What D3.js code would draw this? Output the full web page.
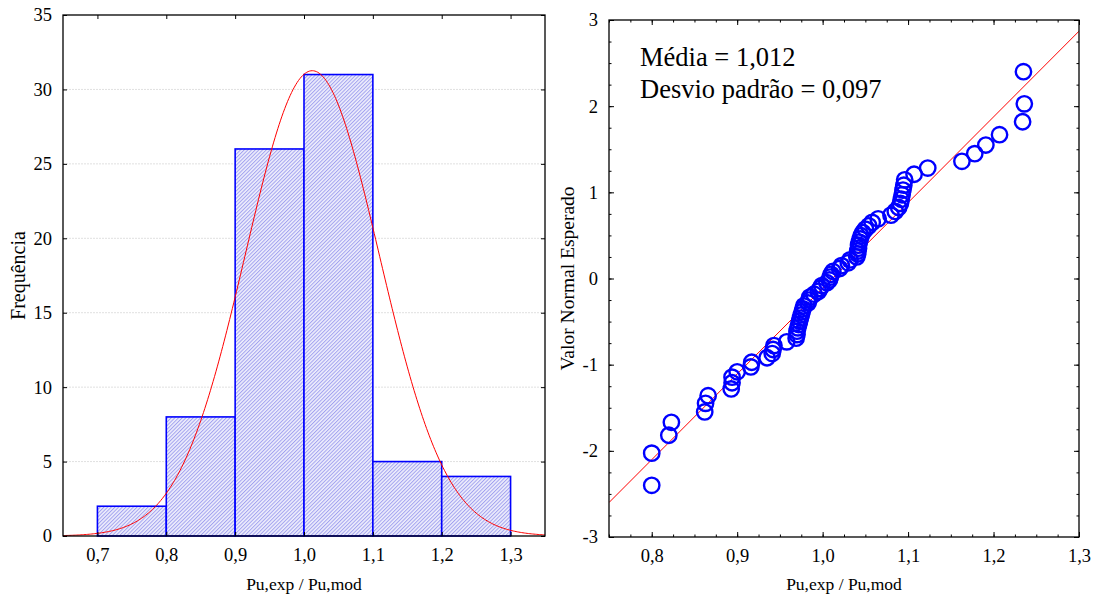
<!DOCTYPE html>
<html><head><meta charset="utf-8">
<script src="https://cdn.jsdelivr.net/npm/d3@7"></script>
<style>
body{margin:0;background:#fff;}
text{font-family:"Liberation Serif","Times New Roman",serif;fill:#000;}
</style></head>
<body><svg id="c" width="1094" height="595"></svg>
<script>
// ---- data ----
const binStarts = [0.7, 0.8, 0.9, 1.0, 1.1, 1.2];
const binWidth = 0.1;
const binCounts = [2, 8, 26, 31, 5, 4];
const histXTicks = [0.7, 0.8, 0.9, 1.0, 1.1, 1.2, 1.3];
const histYTicks = [0, 5, 10, 15, 20, 25, 30, 35];
const mean = 1.012, sd = 0.097;
// sorted observations (x) and expected normal values (y)
const obsX = [0.800,0.800,0.820,0.823,0.862,0.863,0.866,0.893,0.894,0.894,
  0.900,0.916,0.917,0.935,0.941,0.942,0.943,0.958,0.969,0.970,
  0.970,0.971,0.972,0.973,0.974,0.975,0.976,0.977,0.978,0.983,
  0.984,0.985,0.990,0.995,0.997,0.999,1.005,1.008,1.009,1.010,
  1.012,1.020,1.022,1.030,1.032,1.040,1.041,1.041,1.042,1.042,
  1.043,1.044,1.045,1.047,1.050,1.054,1.058,1.065,1.080,1.085,
  1.089,1.091,1.092,1.093,1.094,1.095,1.096,1.107,1.123,1.163,
  1.178,1.191,1.207,1.234,1.236,1.235];
const expZ = [-2.400,-2.027,-1.819,-1.669,-1.549,-1.449,-1.360,-1.282,-1.210,-1.145,
  -1.083,-1.026,-0.972,-0.920,-0.871,-0.824,-0.779,-0.735,-0.693,-0.651,
  -0.611,-0.573,-0.534,-0.496,-0.459,-0.423,-0.387,-0.352,-0.318,-0.284,
  -0.250,-0.216,-0.182,-0.149,-0.116,-0.082,-0.049,-0.016,0.016,0.049,
  0.082,0.116,0.149,0.182,0.216,0.250,0.284,0.318,0.352,0.387,
  0.423,0.459,0.496,0.534,0.573,0.611,0.651,0.693,0.735,0.779,
  0.824,0.871,0.920,0.972,1.026,1.083,1.145,1.210,1.282,1.360,
  1.449,1.549,1.669,1.819,2.027,2.400];
const lineX = [0.75, 1.3];
const lineZ = [-2.60, 2.87];
const qqXTicks = [0.8, 0.9, 1.0, 1.1, 1.2, 1.3];
const qqYTicks = [-3, -2, -1, 0, 1, 2, 3];

const fmt = d => d3.format(".1f")(d).replace(".", ",");
const fmtInt = d => String(d);
const svg = d3.select("#c");
const TICKFS = "18.5px";

// pattern
const defs = svg.append("defs");
const pat = defs.append("pattern").attr("id","hatch").attr("patternUnits","userSpaceOnUse")
  .attr("width",2.6).attr("height",2.6).attr("patternTransform","rotate(45)");
pat.append("rect").attr("width",2.6).attr("height",2.6).attr("fill","#eeeefc");
pat.append("rect").attr("width",1.0).attr("height",2.6).attr("fill","#a2a2ef");

// ---------- Left histogram ----------
const L = {l:63, r:545, t:15, b:536};
const hx = d3.scaleLinear().domain([0.65, 1.35]).range([L.l, L.r]);
const hy = d3.scaleLinear().domain([0, 35]).range([L.b, L.t]);
const gL = svg.append("g");
defs.append("clipPath").attr("id","clipL").append("rect")
  .attr("x",L.l).attr("y",L.t).attr("width",L.r-L.l).attr("height",L.b-L.t);

// grid
gL.selectAll(".grid").data(histYTicks.filter(d=>d>0 && d<35)).enter().append("line")
  .attr("x1",L.l).attr("x2",L.r).attr("y1",d=>hy(d)).attr("y2",d=>hy(d))
  .attr("stroke","#e0e0e0").attr("stroke-width",1).attr("stroke-dasharray","2,1");

// bars
gL.selectAll(".bar").data(binCounts).enter().append("rect")
  .attr("x",(d,i)=>hx(binStarts[i])).attr("width",(d,i)=>hx(binStarts[i]+binWidth)-hx(binStarts[i]))
  .attr("y",d=>hy(d)).attr("height",d=>hy(0)-hy(d))
  .attr("fill","url(#hatch)").attr("stroke","#0000ff").attr("stroke-width",1.6);

// normal curve
const nTot = d3.sum(binCounts);
const curvePts = d3.range(0.65, 1.3501, 0.002).map(x => [x,
  nTot*binWidth/(sd*Math.sqrt(2*Math.PI))*Math.exp(-0.5*((x-mean)/sd)**2)]);
gL.append("path").datum(curvePts).attr("clip-path","url(#clipL)")
  .attr("d", d3.line().x(d=>hx(d[0])).y(d=>hy(d[1])))
  .attr("fill","none").attr("stroke","#ff0000").attr("stroke-width",1);

// frame
gL.append("rect").attr("x",L.l).attr("y",L.t).attr("width",L.r-L.l).attr("height",L.b-L.t)
  .attr("fill","none").attr("stroke","#000").attr("stroke-width",1.3);

// axes
const axB = d3.axisBottom(hx).tickValues(histXTicks).tickFormat(fmt).tickSizeInner(-4).tickSizeOuter(0).tickPadding(12);
const axT = d3.axisTop(hx).tickValues(histXTicks).tickFormat("").tickSizeInner(-4).tickSizeOuter(0);
const axLf = d3.axisLeft(hy).tickValues(histYTicks).tickFormat(fmtInt).tickSizeInner(-4).tickSizeOuter(0).tickPadding(11);
const axR = d3.axisRight(hy).tickValues(histYTicks).tickFormat("").tickSizeInner(-4).tickSizeOuter(0);
function styleAx(g){ g.attr("font-family",null).attr("font-size",null);
  g.select(".domain").remove(); g.selectAll("text").style("font-size",TICKFS).attr("fill","#000");
  g.selectAll("line").attr("stroke","#000"); }
gL.append("g").attr("transform",`translate(0,${L.b})`).call(axB).call(styleAx);
gL.append("g").attr("transform",`translate(0,${L.t})`).call(axT).call(styleAx);
gL.append("g").attr("transform",`translate(${L.l},0)`).call(axLf).call(styleAx);
gL.append("g").attr("transform",`translate(${L.r},0)`).call(axR).call(styleAx);

gL.append("text").attr("x",(L.l+L.r)/2).attr("y",590).attr("text-anchor","middle")
  .style("font-size","17.5px").text("Pu,exp / Pu,mod");
gL.append("text").attr("transform",`translate(25,${(L.t+L.b)/2}) rotate(-90)`).attr("text-anchor","middle")
  .style("font-size","20px").text("Frequência");

// ---------- Right QQ plot ----------
const R = {l:609, r:1079, t:20, b:537};
const qx = d3.scaleLinear().domain([0.75, 1.3]).range([R.l, R.r]);
const qy = d3.scaleLinear().domain([-3, 3]).range([R.b, R.t]);
const gR = svg.append("g");
defs.append("clipPath").attr("id","clipR").append("rect")
  .attr("x",R.l).attr("y",R.t).attr("width",R.r-R.l).attr("height",R.b-R.t);

gR.append("line").attr("clip-path","url(#clipR)")
  .attr("x1",qx(lineX[0])).attr("y1",qy(lineZ[0])).attr("x2",qx(lineX[1])).attr("y2",qy(lineZ[1]))
  .attr("stroke","#ff0000").attr("stroke-width",1);

gR.selectAll(".pt").data(obsX).enter().append("circle")
  .attr("cx",d=>qx(d)).attr("cy",(d,i)=>qy(expZ[i])).attr("r",7.7)
  .attr("fill","none").attr("stroke","#0000ff").attr("stroke-width",2.4);

gR.append("rect").attr("x",R.l).attr("y",R.t).attr("width",R.r-R.l).attr("height",R.b-R.t)
  .attr("fill","none").attr("stroke","#000").attr("stroke-width",1.3);

const minorX = d3.range(0.75, 1.3001, 0.025);
const minorY = d3.range(-3, 3.001, 0.25);
const qB = d3.axisBottom(qx).tickValues(qqXTicks).tickFormat(fmt).tickSizeInner(-5).tickSizeOuter(0).tickPadding(12);
const qT = d3.axisTop(qx).tickValues(qqXTicks).tickFormat("").tickSizeInner(-5).tickSizeOuter(0);
const qL = d3.axisLeft(qy).tickValues(qqYTicks).tickFormat(fmtInt).tickSizeInner(-5).tickSizeOuter(0).tickPadding(11);
const qR = d3.axisRight(qy).tickValues(qqYTicks).tickFormat("").tickSizeInner(-5).tickSizeOuter(0);
gR.append("g").attr("transform",`translate(0,${R.b})`).call(qB).call(styleAx);
gR.append("g").attr("transform",`translate(0,${R.t})`).call(qT).call(styleAx);
gR.append("g").attr("transform",`translate(${R.l},0)`).call(qL).call(styleAx);
gR.append("g").attr("transform",`translate(${R.r},0)`).call(qR).call(styleAx);
// minor ticks
const mx = d3.axisBottom(qx).tickValues(minorX).tickFormat("").tickSizeInner(-2.5).tickSizeOuter(0);
const mxT = d3.axisTop(qx).tickValues(minorX).tickFormat("").tickSizeInner(-2.5).tickSizeOuter(0);
const my = d3.axisLeft(qy).tickValues(minorY).tickFormat("").tickSizeInner(-2.5).tickSizeOuter(0);
const myR = d3.axisRight(qy).tickValues(minorY).tickFormat("").tickSizeInner(-2.5).tickSizeOuter(0);
gR.append("g").attr("transform",`translate(0,${R.b})`).call(mx).call(styleAx);
gR.append("g").attr("transform",`translate(0,${R.t})`).call(mxT).call(styleAx);
gR.append("g").attr("transform",`translate(${R.l},0)`).call(my).call(styleAx);
gR.append("g").attr("transform",`translate(${R.r},0)`).call(myR).call(styleAx);

gR.append("text").attr("x",(R.l+R.r)/2).attr("y",590).attr("text-anchor","middle")
  .style("font-size","17.5px").text("Pu,exp / Pu,mod");
gR.append("text").attr("transform",`translate(574,${(R.t+R.b)/2}) rotate(-90)`).attr("text-anchor","middle")
  .style("font-size","19.5px").text("Valor Normal Esperado");

gR.append("text").attr("x",640).attr("y",66).style("font-size","26.5px").text("Média = 1,012");
gR.append("text").attr("x",640).attr("y",98).style("font-size","26.5px").text("Desvio padrão = 0,097");
</script></body></html>
